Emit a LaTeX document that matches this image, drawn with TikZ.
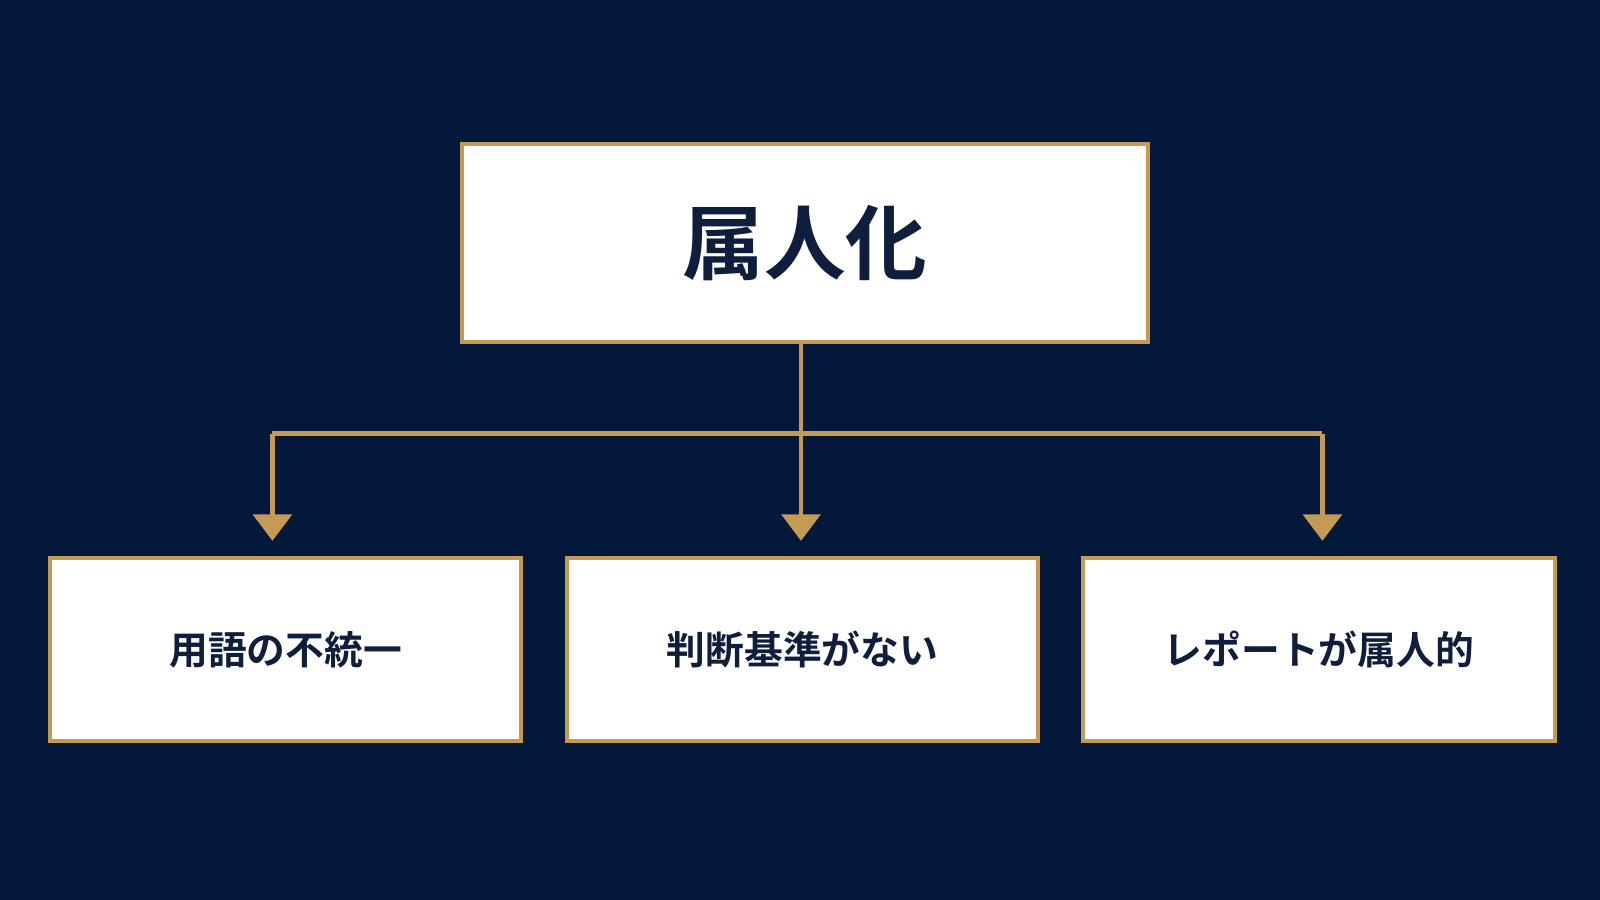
\documentclass[tikz,border=0pt]{standalone}
\usepackage{fontspec}
\newfontfamily\cjk{Noto Sans CJK JP}[BoldFont={Noto Sans CJK JP Bold}]
\usetikzlibrary{arrows.meta}
\definecolor{bg}{HTML}{03183A}
\definecolor{gold}{HTML}{C49A55}
\definecolor{ink}{HTML}{0F1E3C}
\begin{document}
\begin{tikzpicture}[x=0.5pt,y=-0.5pt,
  box/.style={draw=gold,line width=2pt,fill=white,inner sep=0pt,anchor=north west,text=ink,font=\cjk\bfseries},
  con/.style={draw=gold,line width=2.2pt},
  arr/.style={con,-{Triangle[width=19pt,length=13pt]}}]
\fill[bg] (0,0) rectangle (1568,882);
\useasboundingbox (0,0) rectangle (1568,882);
\node[box,minimum width=336pt,minimum height=97pt,font=\cjk\bfseries\fontsize{40}{40}\selectfont] (top) at (451,139) {属人化};
\node[box,minimum width=231pt,minimum height=89.5pt,font=\cjk\bfseries\fontsize{19}{19}\selectfont] (a) at (47,545) {用語の不統一};
\node[box,minimum width=230.5pt,minimum height=89.5pt,font=\cjk\bfseries\fontsize{19}{19}\selectfont] (b) at (554,545) {判断基準がない};
\node[box,minimum width=231.5pt,minimum height=89.5pt,font=\cjk\bfseries\fontsize{19}{19}\selectfont] (c) at (1059,545) {レポートが属人的};
\coordinate (j) at (785,425);
\coordinate (ja) at (267,425);
\coordinate (jc) at (1296,425);
\draw[con] (top.south -| j) -- (j);
\draw[con] (ja) -- (jc);
\draw[arr] (ja) -- (267,530);
\draw[arr] (j) -- (785,530);
\draw[arr] (jc) -- (1296,530);
\end{tikzpicture}
\end{document}
